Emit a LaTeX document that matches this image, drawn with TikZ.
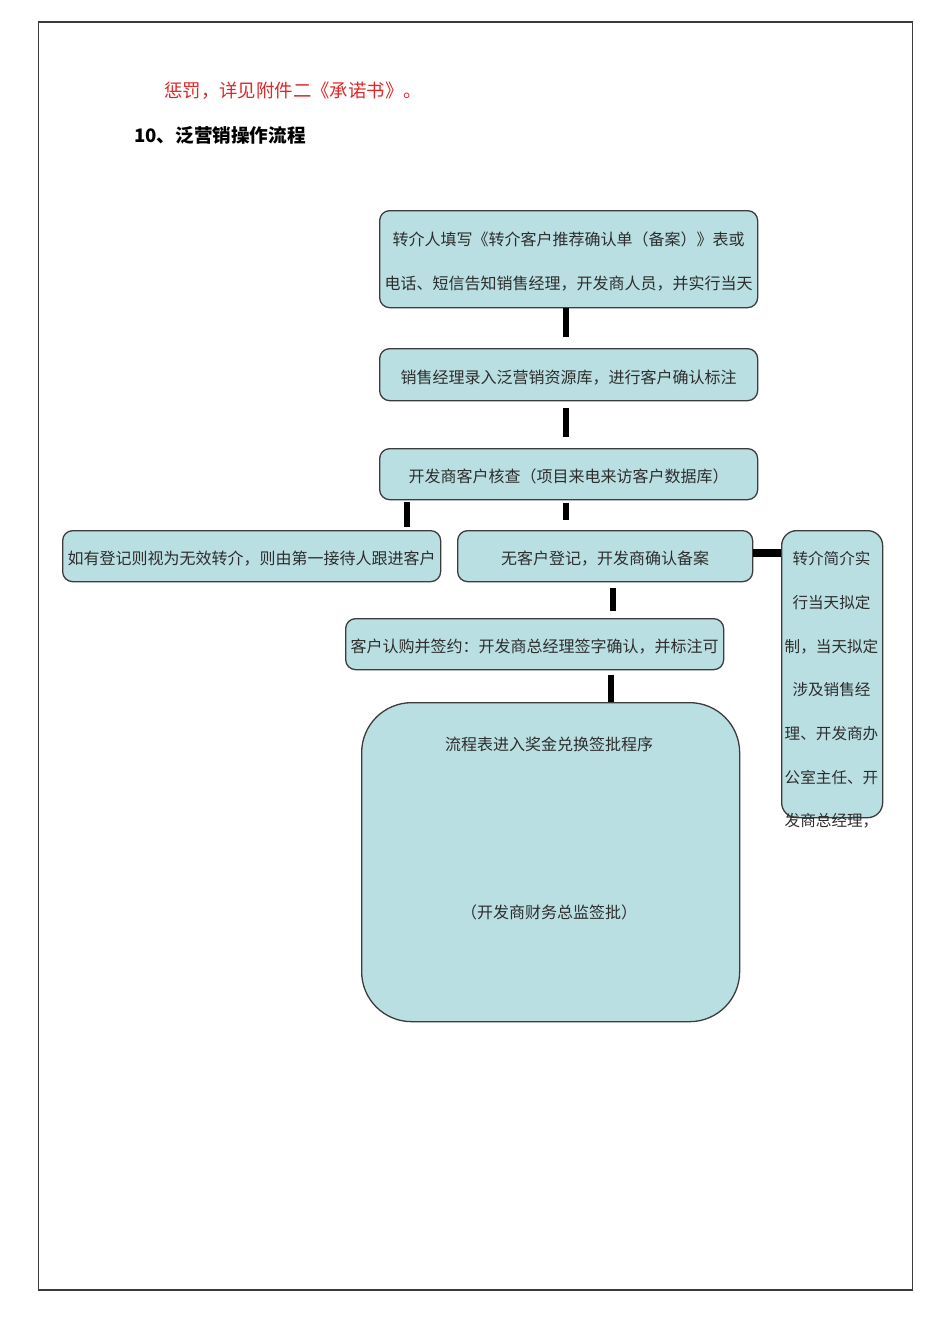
\documentclass[tikz,border=0pt]{standalone}
\usepackage{fontspec}
\newfontfamily\cjk{Noto Sans CJK SC}
\usetikzlibrary{calc}
\definecolor{boxfill}{RGB}{186,223,226}
\definecolor{boxline}{RGB}{60,60,60}
\definecolor{boxtext}{RGB}{45,45,45}
\definecolor{notered}{RGB}{222,40,40}
\begin{document}
\begin{tikzpicture}[x=1pt,y=-1pt,
  flowbox/.style={draw=boxline, fill=boxfill, line width=1.3pt, rounded corners=10pt,
    inner sep=0pt, anchor=north west, text=boxtext, text height=17pt, text depth=0pt,
    font=\cjk\fontsize{16}{44}\selectfont, align=center},
  boxlabel/.style={inner sep=0pt, text=boxtext, font=\cjk\fontsize{15.6}{43.7}\selectfont, align=center},
  conn/.style={draw=black, line width=6.5pt, line cap=butt}]
\useasboundingbox (0,0) rectangle (950,1344);
\fill[white] (0,0) rectangle (950,1344);
% page frame
\draw[boxline, line width=1.2pt] (38.5,22) rectangle (912.5,1290);

% heading lines
\node[anchor=west, inner sep=0pt, text=notered, font=\cjk\fontsize{18.4}{20}\selectfont] (note) at (164,91) {惩罚，详见附件二《承诺书》。};
\node[anchor=west, inner sep=0pt, font=\cjk\bfseries\fontsize{18.6}{20}\selectfont] (title) at (134,135) {10、泛营销操作流程};

% process boxes
\node[flowbox, text height=61pt, minimum width=378pt, minimum height=97pt] (b1) at (379,210)
  {转介人填写《转介客户推荐确认单（备案）》表或\\电话、短信告知销售经理，开发商人员，并实行当天};
\node[flowbox, minimum width=378pt, minimum height=52pt] (b2) at (379,348)
  {销售经理录入泛营销资源库，进行客户确认标注};
\node[flowbox, minimum width=378pt, minimum height=51pt] (b3) at (379,448)
  {开发商客户核查（项目来电来访客户数据库）};
\node[flowbox, minimum width=378pt, minimum height=51pt] (b4) at (62,530)
  {如有登记则视为无效转介，则由第一接待人跟进客户};
\node[flowbox, minimum width=295pt, minimum height=51pt] (b5) at (457,530)
  {无客户登记，开发商确认备案};
\node[flowbox, minimum width=378pt, minimum height=51pt] (b7) at (345,618)
  {客户认购并签约：开发商总经理签字确认，并标注可};
\node[flowbox, rounded corners=50pt, minimum width=378pt, minimum height=319pt] (b8) at (361,702) {};
\node[boxlabel, font=\cjk\fontsize{16}{20}\selectfont] (b8top) at (549,744) {流程表进入奖金兑换签批程序};
\node[boxlabel, font=\cjk\fontsize{16}{20}\selectfont] (b8bot) at (549,912) {（开发商财务总监签批）};

% side note box, its text runs past the bottom edge
\node[flowbox, rounded corners=15pt, minimum width=101pt, minimum height=287pt] (b6) at (781,530) {};
\node[boxlabel] (b6text) at (831.5,690)
  {转介简介实\\行当天拟定\\制，当天拟定\\涉及销售经\\理、开发商办\\公室主任、开\\发商总经理，};

% connector x positions
\coordinate (xa) at (566,0);
\coordinate (xb) at (407,0);
\coordinate (xc) at (613,0);
\coordinate (xd) at (611,0);
\coordinate (yh) at (0,553);

% connectors
\draw[conn, shorten >=11pt] (b1.south -| xa) -- (b2.north -| xa);
\draw[conn, shorten <=7pt, shorten >=11pt] (b2.south -| xa) -- (b3.north -| xa);
\draw[conn, shorten <=2pt, shorten >=3pt] (b3.south -| xb) -- (b4.north -| xb);
\draw[conn, shorten <=3pt, shorten >=10pt] (b3.south -| xa) -- (b5.north -| xa);
\draw[conn, shorten <=6pt, shorten >=7pt] (b5.south -| xc) -- (b7.north -| xc);
\draw[conn, shorten <=5pt] (b7.south -| xd) -- (b8.north -| xd);
\draw[conn, line width=8pt] (b5.east |- yh) -- (b6.west |- yh);
\end{tikzpicture}
\end{document}
